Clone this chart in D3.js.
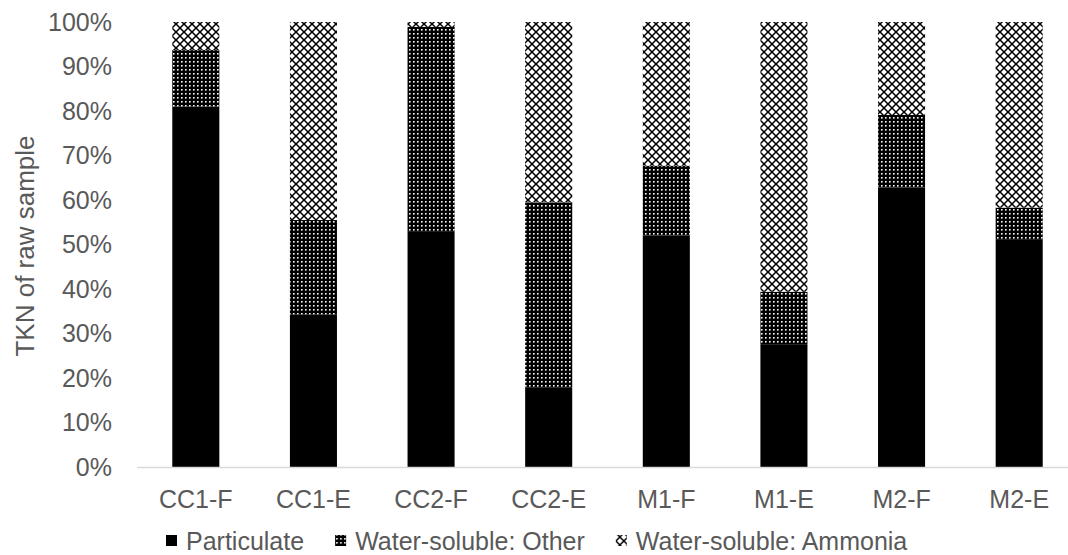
<!DOCTYPE html>
<html>
<head>
<meta charset="utf-8">
<script src="https://cdn.jsdelivr.net/npm/d3@7"></script>
<style>
  body { margin: 0; background: #fff; }
  svg text { font-family: Arial, "Liberation Sans", sans-serif; fill: #595959; }
</style>
</head>
<body>
<div id="chart"></div>
<script>
const categories = ['CC1-F', 'CC1-E', 'CC2-F', 'CC2-E', 'M1-F', 'M1-E', 'M2-F', 'M2-E']
const particulate = [0.810, 0.343, 0.530, 0.178, 0.520, 0.276, 0.628, 0.512]
const otherSoluble = [0.127, 0.212, 0.459, 0.417, 0.157, 0.118, 0.163, 0.071]
const ammonia = particulate.map((p, i) => 1 - p - otherSoluble[i])
const seriesNames = ['Particulate', 'Water-soluble: Other', 'Water-soluble: Ammonia']
const yTicks = [0, 0.1, 0.2, 0.3, 0.4, 0.5, 0.6, 0.7, 0.8, 0.9, 1]

const W = 1068
const H = 555
const fontSize = 25

const svg = d3.select('#chart').append('svg')
  .attr('width', W)
  .attr('height', H)

// patterns that mimic the excel fills
const defs = svg.append('defs')

const pOther = defs.append('pattern')
  .attr('id', 'pat-other')
  .attr('patternUnits', 'userSpaceOnUse')
  .attr('width', 4).attr('height', 4)
pOther.append('rect').attr('width', 4).attr('height', 4).attr('fill', '#000')
pOther.append('rect').attr('x', 1).attr('y', 1).attr('width', 1.6).attr('height', 1.6).attr('fill', '#fff')

const pAmm = defs.append('pattern')
  .attr('id', 'pat-amm')
  .attr('patternUnits', 'userSpaceOnUse')
  .attr('width', 8).attr('height', 8)
pAmm.append('rect').attr('width', 8).attr('height', 8).attr('fill', '#fff')
pAmm.append('path')
  .attr('d', 'M0,0L8,8M8,0L0,8')
  .attr('stroke', '#000')
  .attr('stroke-width', 1.5)
pAmm.append('rect').attr('x', 3.2).attr('y', 3.2).attr('width', 1.6).attr('height', 1.6).attr('fill', '#000')

const fills = ['#000', 'url(#pat-other)', 'url(#pat-amm)']
const colorScale = d3.scaleOrdinal().domain(seriesNames).range(fills)

const xPositionScale = d3.scaleBand()
  .domain(categories)
  .range([137, 1078])
  .paddingInner(0.6)
  .paddingOuter(0.3)

const yPositionScale = d3.scaleLinear().domain([0, 1]).range([467, 22])

// stack the three parts
const table = categories.map((c, i) => ({
  cat: c,
  'Particulate': particulate[i],
  'Water-soluble: Other': otherSoluble[i],
  'Water-soluble: Ammonia': ammonia[i]
}))
const stacked = d3.stack().keys(seriesNames)(table)

svg.append('g')
  .selectAll('g')
  .data(stacked)
  .join('g')
  .attr('fill', d => colorScale(d.key))
  .selectAll('rect')
  .data(d => d)
  .join('rect')
  .attr('x', d => xPositionScale(d.data.cat))
  .attr('width', xPositionScale.bandwidth())
  .attr('y', d => yPositionScale(d[1]))
  .attr('height', d => yPositionScale(d[0]) - yPositionScale(d[1]))

// x axis line
svg.append('line')
  .attr('x1', 137).attr('x2', 1078)
  .attr('y1', yPositionScale(0) + 0.5).attr('y2', yPositionScale(0) + 0.5)
  .attr('stroke', '#d9d9d9')
  .attr('stroke-width', 1.3)

const xAxis = d3.axisBottom(xPositionScale).tickSize(0).tickPadding(23)
svg.append('g')
  .attr('class', 'axis x-axis')
  .attr('transform', 'translate(0,' + yPositionScale(0) + ')')
  .call(xAxis)
  .call(g => g.select('.domain').remove())
  .selectAll('text')
  .attr('font-size', fontSize)
  .style('fill', '#595959')

const yAxis = d3.axisLeft(yPositionScale)
  .tickValues(yTicks)
  .tickFormat(d3.format('.0%'))
  .tickSize(0)
  .tickPadding(0)
svg.append('g')
  .attr('class', 'axis y-axis')
  .attr('transform', 'translate(112,0)')
  .call(yAxis)
  .call(g => g.select('.domain').remove())
  .selectAll('text')
  .attr('font-size', fontSize)
  .style('fill', '#595959')

svg.selectAll('.axis text').attr('font-family', 'Arial, "Liberation Sans", sans-serif')

// y title
svg.append('text')
  .attr('transform', 'translate(34,246) rotate(-90)')
  .attr('text-anchor', 'middle')
  .attr('font-size', fontSize + 1)
  .text('TKN of raw sample')

// legend, laid out left to right
const legend = svg.append('g').attr('transform', 'translate(0,541)')
let lx = 166
seriesNames.forEach(name => {
  const item = legend.append('g').attr('transform', 'translate(' + lx + ',0)')
  item.append('rect')
    .attr('x', 0).attr('y', -6)
    .attr('width', 11).attr('height', 11)
    .attr('fill', colorScale(name))
  const t = item.append('text')
    .attr('x', 20)
    .attr('dy', '0.35em')
    .attr('font-size', fontSize)
    .text(name)
  lx += 20 + t.node().getComputedTextLength() + 31
})
</script>
</body>
</html>
